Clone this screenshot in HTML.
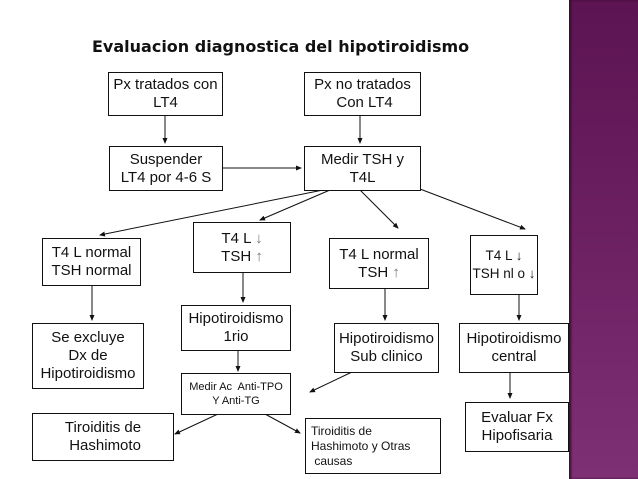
<!DOCTYPE html>
<html><head><meta charset="utf-8"><style>
html,body{margin:0;padding:0;background:#fff;}
body{width:638px;height:479px;position:relative;overflow:hidden;font-family:"Liberation Sans",sans-serif;color:#111;}
.b{position:absolute;border:1px solid #111;box-sizing:border-box;background:#fff;display:flex;align-items:center;justify-content:center;text-align:center;font-size:15px;line-height:18px;white-space:nowrap;}
.strip{position:absolute;left:569px;top:0;width:69px;height:479px;background:linear-gradient(#5c1452,#6e2264 55%,#7e3075);box-shadow:inset 2px 0 2px #3a0a35;}
.t{position:absolute;left:92px;top:37px;font-family:"DejaVu Sans",sans-serif;font-weight:bold;font-size:16px;white-space:nowrap;}
.g{color:#777;}
</style></head><body>
<div class="strip"></div>
<div class="t">Evaluacion diagnostica del hipotiroidismo</div>
<svg style="position:absolute;left:0;top:0" width="638" height="479">
<defs><marker id="a" markerWidth="6" markerHeight="6" refX="5" refY="3" orient="auto"><path d="M0,0.5 L6,3 L0,5.5z" fill="#111"/></marker></defs>
<g stroke="#111" stroke-width="1" marker-end="url(#a)">
<line x1="165" y1="115" x2="165" y2="143"/>
<line x1="360" y1="115" x2="360" y2="143"/>
<line x1="222" y1="168" x2="301" y2="168"/>
<line x1="323" y1="190" x2="100" y2="235"/>
<line x1="330" y1="190" x2="260" y2="220"/>
<line x1="360" y1="190" x2="398" y2="228"/>
<line x1="420" y1="189" x2="525" y2="229"/>
<line x1="92" y1="285" x2="92" y2="320"/>
<line x1="243" y1="272" x2="243" y2="302"/>
<line x1="385" y1="288" x2="385" y2="320"/>
<line x1="519" y1="294" x2="519" y2="320"/>
<line x1="238" y1="350" x2="238" y2="371"/>
<line x1="510" y1="372" x2="510" y2="398"/>
<line x1="352" y1="372" x2="310" y2="392"/>
<line x1="218" y1="414" x2="175" y2="434"/>
<line x1="265" y1="414" x2="300" y2="433"/>
</g></svg>
<div class="b" style="left:108px;top:72px;width:115px;height:44px"><div>Px tratados con<br>LT4</div></div>
<div class="b" style="left:304px;top:72px;width:117px;height:44px"><div>Px no tratados<br>&nbsp;Con LT4</div></div>
<div class="b" style="left:109px;top:146px;width:114px;height:45px"><div>Suspender<br>LT4 por 4-6 S</div></div>
<div class="b" style="left:304px;top:146px;width:117px;height:45px"><div>Medir TSH y<br>T4L</div></div>
<div class="b" style="left:42px;top:238px;width:99px;height:48px"><div>T4 L normal<br>TSH normal</div></div>
<div class="b" style="left:193px;top:222px;width:98px;height:51px"><div>T4 L <span class="g">↓</span><br>TSH <span class="g">↑</span></div></div>
<div class="b" style="left:329px;top:238px;width:100px;height:51px"><div>T4 L normal<br>TSH <span class="g">↑</span></div></div>
<div class="b" style="left:470px;top:235px;width:68px;height:60px;font-size:13.5px"><div>T4 L ↓<br>TSH nl o ↓</div></div>
<div class="b" style="left:32px;top:323px;width:112px;height:66px"><div>Se excluye<br>Dx de<br>Hipotiroidismo</div></div>
<div class="b" style="left:181px;top:305px;width:110px;height:46px"><div>Hipotiroidismo<br>1rio</div></div>
<div class="b" style="left:334px;top:323px;width:105px;height:50px"><div>Hipotiroidismo<br>Sub clinico</div></div>
<div class="b" style="left:459px;top:323px;width:110px;height:50px"><div>Hipotiroidismo<br>central</div></div>
<div class="b" style="left:181px;top:373px;width:110px;height:42px;font-size:11px;line-height:14px"><div>Medir Ac&nbsp; Anti-TPO<br>Y Anti-TG</div></div>
<div class="b" style="left:465px;top:402px;width:104px;height:50px"><div>Evaluar Fx<br>Hipofisaria</div></div>
<div class="b" style="left:32px;top:413px;width:142px;height:48px"><div>Tiroiditis de<br>&nbsp;Hashimoto</div></div>
<div class="b" style="left:305px;top:418px;width:136px;height:56px;font-size:12px;line-height:15px;justify-content:flex-start;text-align:left;padding-left:5px"><div>Tiroiditis de<br>Hashimoto y Otras<br>&nbsp;causas</div></div>
</body></html>
